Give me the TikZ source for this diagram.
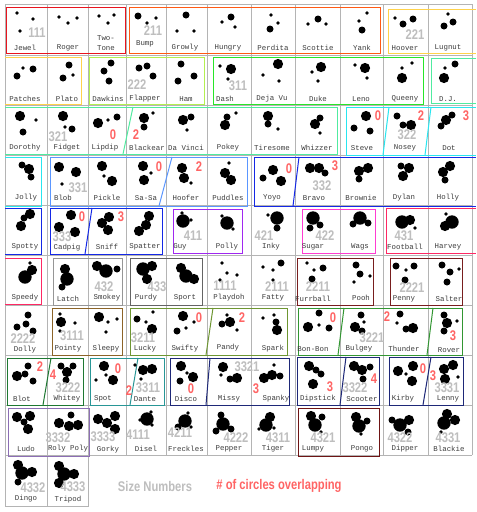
\documentclass[tikz,border=0pt]{standalone}
\usepackage{fontspec}
\usepackage{tikz}
\usepackage{xcolor}
\newfontfamily\namefont{Liberation Mono}
\newfontfamily\numfont[FakeStretch=0.8]{Liberation Sans}
\definecolor{gridgray}{HTML}{B4B4B4}
\definecolor{nametext}{HTML}{3C3C3C}
\definecolor{sizegray}{HTML}{BEBEBE}
\definecolor{overlapred}{HTML}{FF6464}
\definecolor{grpred}{HTML}{E8141E}
\definecolor{grporange}{HTML}{FF5A14}
\definecolor{grpyellow}{HTML}{FFD24B}
\definecolor{grplime}{HTML}{B4F050}
\definecolor{grpgreen}{HTML}{28E628}
\definecolor{grpmint}{HTML}{50EBA0}
\definecolor{grpcyan}{HTML}{28E6F0}
\definecolor{grpskyblue}{HTML}{5A96FF}
\definecolor{grpblue}{HTML}{1428E6}
\definecolor{grppurple}{HTML}{A028F0}
\definecolor{grpmagenta}{HTML}{FF3CD2}
\definecolor{grppink}{HTML}{FF2864}
\definecolor{grpgray}{HTML}{969696}
\definecolor{grpdarkgray}{HTML}{646464}
\definecolor{grpdarkred}{HTML}{781E1E}
\definecolor{grpbrown}{HTML}{8C6428}
\definecolor{grpolive}{HTML}{6E9632}
\definecolor{grpforest}{HTML}{329632}
\definecolor{grpdarkgreen}{HTML}{1E7832}
\definecolor{grpteal}{HTML}{289696}
\definecolor{grpnavy}{HTML}{1E2878}
\definecolor{grplavender}{HTML}{8C6EB4}
\definecolor{grpmaroon}{HTML}{6E1414}
\tikzset{
  pupname/.style={font=\namefont\fontsize{7.4}{9.5}\selectfont,text=nametext,inner sep=0pt,align=center},
  sizenum/.style={font=\numfont\bfseries\fontsize{14}{14}\selectfont,text=sizegray,inner sep=0pt},
  overlapnum/.style={font=\numfont\bfseries\fontsize{14}{14}\selectfont,text=overlapred,inner sep=0pt},
  gridline/.style={draw=gridgray,line width=0.8pt},
  grp/.style={line width=1pt}
}
\newcommand{\pup}[4]{%
  \node[pupname] (#1) at (#2) {#3};
  \foreach \dx/\dy/\ds in {#4}{%
    \pgfmathsetmacro\drad{1.6*\ds+0.3}%
    \fill (\dx,\dy) circle (\drad pt);}%
}
\begin{document}
\begin{tikzpicture}[x=1pt,y=-1pt]
  \fill[white] (0,0) rectangle (476,512);
  \foreach \y in {4,55,105,155,205,255,305,355,405,455}
    \draw[gridline] (5,\y) -- (472,\y);
  \foreach \x in {5,47,88,126,166,207,251,295,340,383,428,472}
    \draw[gridline] (\x,4) -- (\x,455);
  \draw[gridline] (5,455) rectangle (88,506) (47,455) -- (47,506);

  \draw[grp,grpred] (6,7) rectangle (125,53);
  \draw[grp,grporange] (129,7) rectangle (380,53);
  \draw[grp,grpyellow] (476,9) -| (388,53) -- (476,53);
  \draw[grp,grpyellow] (5,57) -| (81,104) -- (5,104);
  \draw[grp,grplime] (89,57) rectangle (204,104);
  \draw[grp,grpgreen] (213,57) rectangle (423,104);
  \draw[grp,grpmint] (476,58) -| (431,103) -- (476,103);
  \draw[grp,grpmint] (5,107) -| (337,154) -- (5,154);
  \draw[grp,grpmint] (133,107) -- (123,154);
  \draw[grp,grpcyan] (476,107) -| (346,155) -- (476,155);
  \draw[grp,grpcyan] (389,107) -- (383,155) (431,107) -- (425,155);
  \draw[grp,grpcyan] (5,157) -| (41,206) -- (5,206);
  \draw[grp,grpskyblue] (50,157) rectangle (247,206);
  \draw[grp,grpskyblue] (172,157) -- (159,206);
  \draw[grp,grpblue] (476,157) -| (254,206) -- (476,206);
  \draw[grp,grpblue] (299,157) -- (293,206);
  \draw[grp,grpblue] (5,208) -| (41,254) -- (5,254);
  \draw[grp,grpblue] (50,208) rectangle (162,254);
  \draw[grp,grpblue] (92,208) -- (85,254);
  \draw[grp,grppurple] (173,209) rectangle (242,253);
  \draw[grp,grpmagenta] (302,209) rectangle (375,253);
  \draw[grp,grppink] (476,208) -| (386,253) -- (476,253);
  \draw[grp,grppink] (5,258) -| (41,304) -- (5,304);
  \draw[grp,grpgray] (53,258) rectangle (122,305);
  \draw[grp,grpdarkgray] (130,258) rectangle (202,305);
  \draw[grp,grpdarkred] (297,258) rectangle (373,305);
  \draw[grp,grpdarkred] (390,258) rectangle (462,305);
  \draw[grp,grpbrown] (52,308) rectangle (122,355);
  \draw[grp,grpolive] (130,308) rectangle (287,355);
  \draw[grp,grpolive] (213,308) -- (206,355);
  \draw[grp,grpforest] (298,308) rectangle (462,355);
  \draw[grp,grpforest] (344,308) -- (338,355) (433,308) -- (427,355);
  \draw[grp,grpdarkgreen] (7,358) rectangle (83,405);
  \draw[grp,grpdarkgreen] (51,358) -- (43,405);
  \draw[grp,grpteal] (90,358) rectangle (164,405);
  \draw[grp,grpteal] (138,358) -- (130,405);
  \draw[grp,grpnavy] (170,358) rectangle (289,405);
  \draw[grp,grpnavy] (210,358) -- (206,405);
  \draw[grp,grpnavy] (297,357) rectangle (379,405);
  \draw[grp,grpnavy] (346,357) -- (340,405);
  \draw[grp,grpnavy] (389,357) rectangle (463,405);
  \draw[grp,grpnavy] (431,357) -- (423,405);
  \draw[grp,grplavender] (8,408) rectangle (89,456);
  \draw[grp,grpmaroon] (298,408) rectangle (379,456);

  \pup{jewel}{25,48}{Jewel}{17/13/1,33/19/1,20/31/1}
  \pup{roger}{68,48}{Roger}{59/17/1,68/23/1,77/18/1}
  \pup{twotone}{106,43}{Two-\\Tone}{99/16/1,114/15/1,108/23/1}
  \pup{bump}{145,44}{Bump}{138/16/2,147/23/1,156/18/1}
  \pup{growly}{185,48}{Growly}{186/15/2,177/31/1,194/31/1}
  \pup{hungry}{228,48}{Hungry}{231/17/2,222/22/1,235/27/1}
  \pup{perdita}{273,48}{Perdita}{271/15/1,278/23/1,270/29/2}
  \pup{scottie}{318,48}{Scottie}{308/24/1,318/19/2,326/24/1}
  \pup{yank}{362,48}{Yank}{367/13/1,359/21/1,362/30/2}
  \pup{hoover}{405,48}{Hoover}{395/18/1,403/24/2,413/19/2}
  \pup{lugnut}{448,48}{Lugnut}{448/14/1,444/26/2,453/22/2}

  \pup{patches}{25,99}{Patches}{23/68/1,33/69/2,17/76/2}
  \pup{plato}{67,99}{Plato}{69/65/2,73/75/1,63/78/2}
  \pup{dawkins}{108,99}{Dawkins}{111/63/2,104/71/2,109/81/2}
  \pup{flapper}{145,99}{Flapper}{139/68/2,147/66/2,153/76/2}
  \pup{ham}{186,99}{Ham}{181/64/2,194/76/2,178/81/2}
  \pup{dash}{225,99}{Dash}{220/66/1,231/69/3,228/79/1}
  \pup{dejavu}{272,99}{Deja Vu}{278/64/3,263/75/1,279/81/1}
  \pup{duke}{318,99}{Duke}{321/67/3,312/72/1,318/81/1}
  \pup{leno}{361,99}{Leno}{355/65/1,365/68/3,367/78/1}
  \pup{queeny}{405,99}{Queeny}{402/68/1,412/63/1,402/78/3}
  \pup{dj}{448,99}{D.J.}{445/68/1,455/64/2,444/78/3}

  \pup{dorothy}{25,148}{Dorothy}{20/116/3,36/120/1,23/132/2}
  \pup{fidget}{67,148}{Fidget}{63/116/3,65/127/1,72/129/2}
  \pup{lipdip}{105,148}{Lipdip}{98/123/3,108/120/1,117/117/2}
  \pup{blackear}{147,148}{Blackear}{144/118/3,153/113/1,144/127/2}
  \pup{davinci}{186,148}{Da Vinci}{183/120/3,191/117/2,187/130/1}
  \pup{pokey}{228,148}{Pokey}{227/117/2,236/113/1,225/125/3}
  \pup{tiresome}{272,148}{Tiresome}{268/116/3,268/124/2,278/129/1}
  \pup{whizzer}{317,148}{Whizzer}{315/124/3,320/118/2,320/133/1}
  \pup{steve}{362,148}{Steve}{366/116/3,354/128/2,370/131/2}
  \pup{nosey}{405,148}{Nosey}{397/116/2,403/125/2,411/125/3}
  \pup{dot}{449,148}{Dot}{446/120/3,452/115/2,441/126/2}

  \pup{jolly}{26,198}{Jolly}{22/165/2,29/169/3,31/177/2}
  \pup{blob}{63,198}{Blob}{59/167/3,76/172/3,62/184/1}
  \pup{pickle}{107,198}{Pickle}{102/166/3,104/176/1,112/181/3}
  \pup{sasa}{146,198}{Sa-Sa}{143/166/3,151/173/1,144/180/3}
  \pup{hoofer}{186,198}{Hoofer}{182/168/3,184/178/3,191/183/1}
  \pup{puddles}{228,198}{Puddles}{229/163/1,225/173/3,231/180/3}
  \pup{yoyo}{272,198}{Yoyo}{273/170/3,263/178/2,281/181/3}
  \pup{bravo}{314,198}{Bravo}{310/168/3,319/168/3,325/173/2}
  \pup{brownie}{361,198}{Brownie}{359/171/3,368/168/3,359/179/2}
  \pup{dylan}{404,198}{Dylan}{401/166/2,409/168/3,403/176/3}
  \pup{holly}{448,198}{Holly}{450/166/3,443/172/3,445/180/2}

  \pup{spotty}{25,247}{Spotty}{30/214/3,24/218/2,21/226/3}
  \pup{cadpig}{67,248}{Cadpig}{71/215/3,59/227/3,75/232/3}
  \pup{sniff}{107,247}{Sniff}{109/217/3,102/223/3,108/230/3}
  \pup{spatter}{145,247}{Spatter}{149/216/3,146/225/3,139/231/3}
  \pup{guy}{180,247}{Guy}{183/221/4,182/213/1,191/220/1}
  \pup{polly}{227,247}{Polly}{227/223/4,222/216/1,233/229/1}
  \pup{inky}{271,247}{Inky}{277/218/4,268/215/1,277/228/2}
  \pup{sugar}{313,247}{Sugar}{313/218/4,320/225/2,310/228/2}
  \pup{wags}{360,247}{Wags}{360/218/4,368/223/2,353/224/2}
  \pup{football}{405,247}{Football}{402/222/4,410/220/3,415/228/1}
  \pup{harvey}{448,247}{Harvey}{452/222/4,445/226/3,446/214/1}

  \pup{speedy}{25,298}{Speedy}{25/277/4,32/270/3,30/263/1}
  \pup{latch}{68,299}{Latch}{65/269/3,67/279/4,62/287/2}
  \pup{smokey}{107,298}{Smokey}{106/271/4,97/266/3,117/269/2}
  \pup{purdy}{146,298}{Purdy}{143/269/4,152/266/3,147/279/3}
  \pup{sport}{185,298}{Sport}{181/268/3,186/276/4,194/279/3}
  \pup{playdoh}{229,298}{Playdoh}{222/263/1,227/273/1,237/275/1,220/280/1}
  \pup{fatty}{273,298}{Fatty}{281/263/2,263/267/1,273/270/1,273/280/1}
  \pup{furrball}{313,299}{Furrball}{307/263/1,314/270/1,323/268/2,312/279/2}
  \pup{pooh}{361,298}{Pooh}{356/265/2,360/274/2,370/276/1,354/282/1}
  \pup{penny}{404,299}{Penny}{396/266/2,406/270/1,414/266/2,405/280/2}
  \pup{salter}{449,299}{Salter}{442/265/2,450/272/2,459/269/1,447/282/2}

  \pup{dolly}{25,350}{Dolly}{28/315/2,17/327/2,26/324/2,33/331/2}
  \pup{pointy}{68,349}{Pointy}{60/314/1,61/322/3,75/323/1,60/331/1}
  \pup{sleepy}{106,349}{Sleepy}{99/317/3,108/322/1,117/319/1,106/332/1}
  \pup{lucky}{145,349}{Lucky}{137/319/2,153/312/1,146/322/1,152/329/3}
  \pup{swifty}{185,349}{Swifty}{183/316/3,194/322/1,177/331/2,186/328/1}
  \pup{pandy}{228,348}{Pandy}{230/322/3,222/324/2,227/315/1,237/330/1}
  \pup{spark}{273,349}{Spark}{263/318/1,274/315/1,276/322/2,277/330/3}
  \pup{bonbon}{313,349}{Bon-Bon}{308/327/3,319/313/2,319/325/1,329/328/2}
  \pup{bulgey}{359,349}{Bulgey}{361/315/2,355/327/3,364/322/1,362/331/2}
  \pup{thunder}{404,349}{Thunder}{400/314/2,397/323/1,413/328/3,406/329/2}
  \pup{rover}{449,350}{Rover}{444/315/2,447/323/3,444/331/2,457/321/1}

  \pup{blot}{22,399}{Blot}{17/376/3,25/374/2,28/366/2,33/381/2}
  \pup{whitey}{67,399}{Whitey}{67/372/3,61/366/2,73/366/2,66/380/2}
  \pup{spot}{103,399}{Spot}{104/366/3,113/380/3,106/375/1,96/380/1}
  \pup{dante}{145,399}{Dante}{143/370/3,152/369/3,141/379/1,135/365/1}
  \pup{disco}{186,399}{Disco}{181/366/3,193/377/3,180/381/2,187/373/1}
  \pup{missy}{229,399}{Missy}{223/367/3,221/375/1,230/379/2,237/378/3}
  \pup{spanky}{276,399}{Spanky}{264/378/3,272/375/3,274/365/1,280/376/2}
  \pup{dipstick}{318,399}{Dipstick}{309/366/3,316/370/2,313/384/3,321/374/2}
  \pup{scooter}{362,399}{Scooter}{354/366/3,362/370/3,370/367/2,363/379/2}
  \pup{kirby}{403,399}{Kirby}{398/371/3,413/366/3,412/381/3,406/374/1}
  \pup{lenny}{448,399}{Lenny}{444/369/3,453/365/3,445/379/3,458/377/1}

  \pup{ludo}{26,449}{Ludo}{17/417/3,30/416/3,28/429/3,24/422/2}
  \pup{rolypoly}{68,449}{Roly Poly}{59/423/3,71/415/2,78/425/3,69/426/3}
  \pup{gorky}{108,450}{Gorky}{98/419/3,115/416/3,115/429/3,107/423/3}
  \pup{disel}{146,449}{Disel}{147/419/4,140/420/1,151/412/1,152/425/1}
  \pup{freckles}{186,449}{Freckles}{185/421/4,188/413/1,178/427/2,191/427/1}
  \pup{pepper}{229,449}{Pepper}{223/424/4,221/415/2,231/429/2,216/431/2}
  \pup{tiger}{273,449}{Tiger}{266/425/4,270/417/3,274/428/1,259/429/1}
  \pup{lumpy}{313,449}{Lumpy}{315/425/4,311/416/3,322/417/2,321/432/1}
  \pup{pongo}{362,449}{Pongo}{359/426/4,356/417/3,367/421/2,361/434/1}
  \pup{dipper}{405,449}{Dipper}{400/425/4,409/420/3,408/432/2,392/420/2}
  \pup{blackie}{449,449}{Blackie}{444/423/4,447/414/3,455/420/3,441/432/1}

  \pup{dingo}{26,499}{Dingo}{22/473/4,18/465/3,32/472/3,18/482/2}
  \pup{tripod}{68,500}{Tripod}{64/474/4,59/466/3,74/474/3,59/483/3}

  \node[sizenum] (s111) at (37,33) {111};
  \node[sizenum] (s211) at (153,31) {211};
  \node[sizenum] (s221) at (415,35) {221};
  \node[sizenum] (s222) at (137,85) {222};
  \node[sizenum] (s311) at (238,86) {311};
  \node[sizenum] (s321) at (58,137) {321};
  \node[sizenum] (s322) at (407,135) {322};
  \node[sizenum] (s331) at (78,188) {331};
  \node[sizenum] (s332) at (322,186) {332};
  \node[sizenum] (s333) at (62,237) {333};
  \node[sizenum] (s411) at (193,236) {411};
  \node[sizenum] (s421) at (264,236) {421};
  \node[sizenum] (s422) at (325,236) {422};
  \node[sizenum] (s431) at (404,236) {431};
  \node[sizenum] (s432) at (104,287) {432};
  \node[sizenum] (s433) at (157,287) {433};
  \node[sizenum] (s1111) at (225,286) {1111};
  \node[sizenum] (s2111) at (277,287) {2111};
  \node[sizenum] (s2211) at (318,287) {2211};
  \node[sizenum] (s2221) at (412,288) {2221};
  \node[sizenum] (s2222) at (23,339) {2222};
  \node[sizenum] (s3111) at (72,336) {3111};
  \node[sizenum] (s3211) at (143,338) {3211};
  \node[sizenum] (s3221) at (372,338) {3221};
  \node[sizenum] (s3222) at (68,388) {3222};
  \node[sizenum] (s3311) at (148,388) {3311};
  \node[sizenum] (s3321) at (247,367) {3321};
  \node[sizenum] (s3322) at (355,388) {3322};
  \node[sizenum] (s3331) at (447,388) {3331};
  \node[sizenum] (s3332) at (58,438) {3332};
  \node[sizenum] (s3333) at (103,437) {3333};
  \node[sizenum] (s4111) at (138,435) {4111};
  \node[sizenum] (s4211) at (180,433) {4211};
  \node[sizenum] (s4222) at (236,438) {4222};
  \node[sizenum] (s4311) at (278,438) {4311};
  \node[sizenum] (s4321) at (323,438) {4321};
  \node[sizenum] (s4322) at (400,438) {4322};
  \node[sizenum] (s4331) at (448,438) {4331};
  \node[sizenum] (s4332) at (33,488) {4332};
  \node[sizenum] (s4333) at (73,487) {4333};

  \node[overlapnum] (o-lipdip) at (113,135) {0};
  \node[overlapnum] (o-blackear) at (136,135) {2};
  \node[overlapnum] (o-steve) at (378,116) {0};
  \node[overlapnum] (o-nosey) at (421,116) {2};
  \node[overlapnum] (o-dot) at (466,116) {3};
  \node[overlapnum] (o-sasa) at (159,167) {0};
  \node[overlapnum] (o-hoofer) at (199,167) {2};
  \node[overlapnum] (o-yoyo) at (289,169) {0};
  \node[overlapnum] (o-bravo) at (335,166) {3};
  \node[overlapnum] (o-cadpig) at (82,217) {0};
  \node[overlapnum] (o-sniff) at (121,217) {3};
  \node[overlapnum] (o-swifty) at (199,318) {0};
  \node[overlapnum] (o-pandy) at (242,318) {2};
  \node[overlapnum] (o-bonbon) at (333,318) {0};
  \node[overlapnum] (o-thunder) at (387,317) {2};
  \node[overlapnum] (o-rover) at (453,336) {3};
  \node[overlapnum] (o-blot) at (40,367) {2};
  \node[overlapnum] (o-whitey) at (53,375) {4};
  \node[overlapnum] (o-spot) at (118,369) {0};
  \node[overlapnum] (o-dante) at (129,391) {2};
  \node[overlapnum] (o-disco) at (191,389) {0};
  \node[overlapnum] (o-spanky) at (256,389) {3};
  \node[overlapnum] (o-dipstick) at (330,387) {3};
  \node[overlapnum] (o-scooter) at (374,379) {4};
  \node[overlapnum] (o-kirby) at (423,369) {0};
  \node[overlapnum] (o-lenny) at (433,376) {3};

  \node[sizenum] (legsize) at (155,486) {Size Numbers};
  \node[overlapnum] (legover) at (279,486) {\# of circles overlapping};
\end{tikzpicture}
\end{document}
